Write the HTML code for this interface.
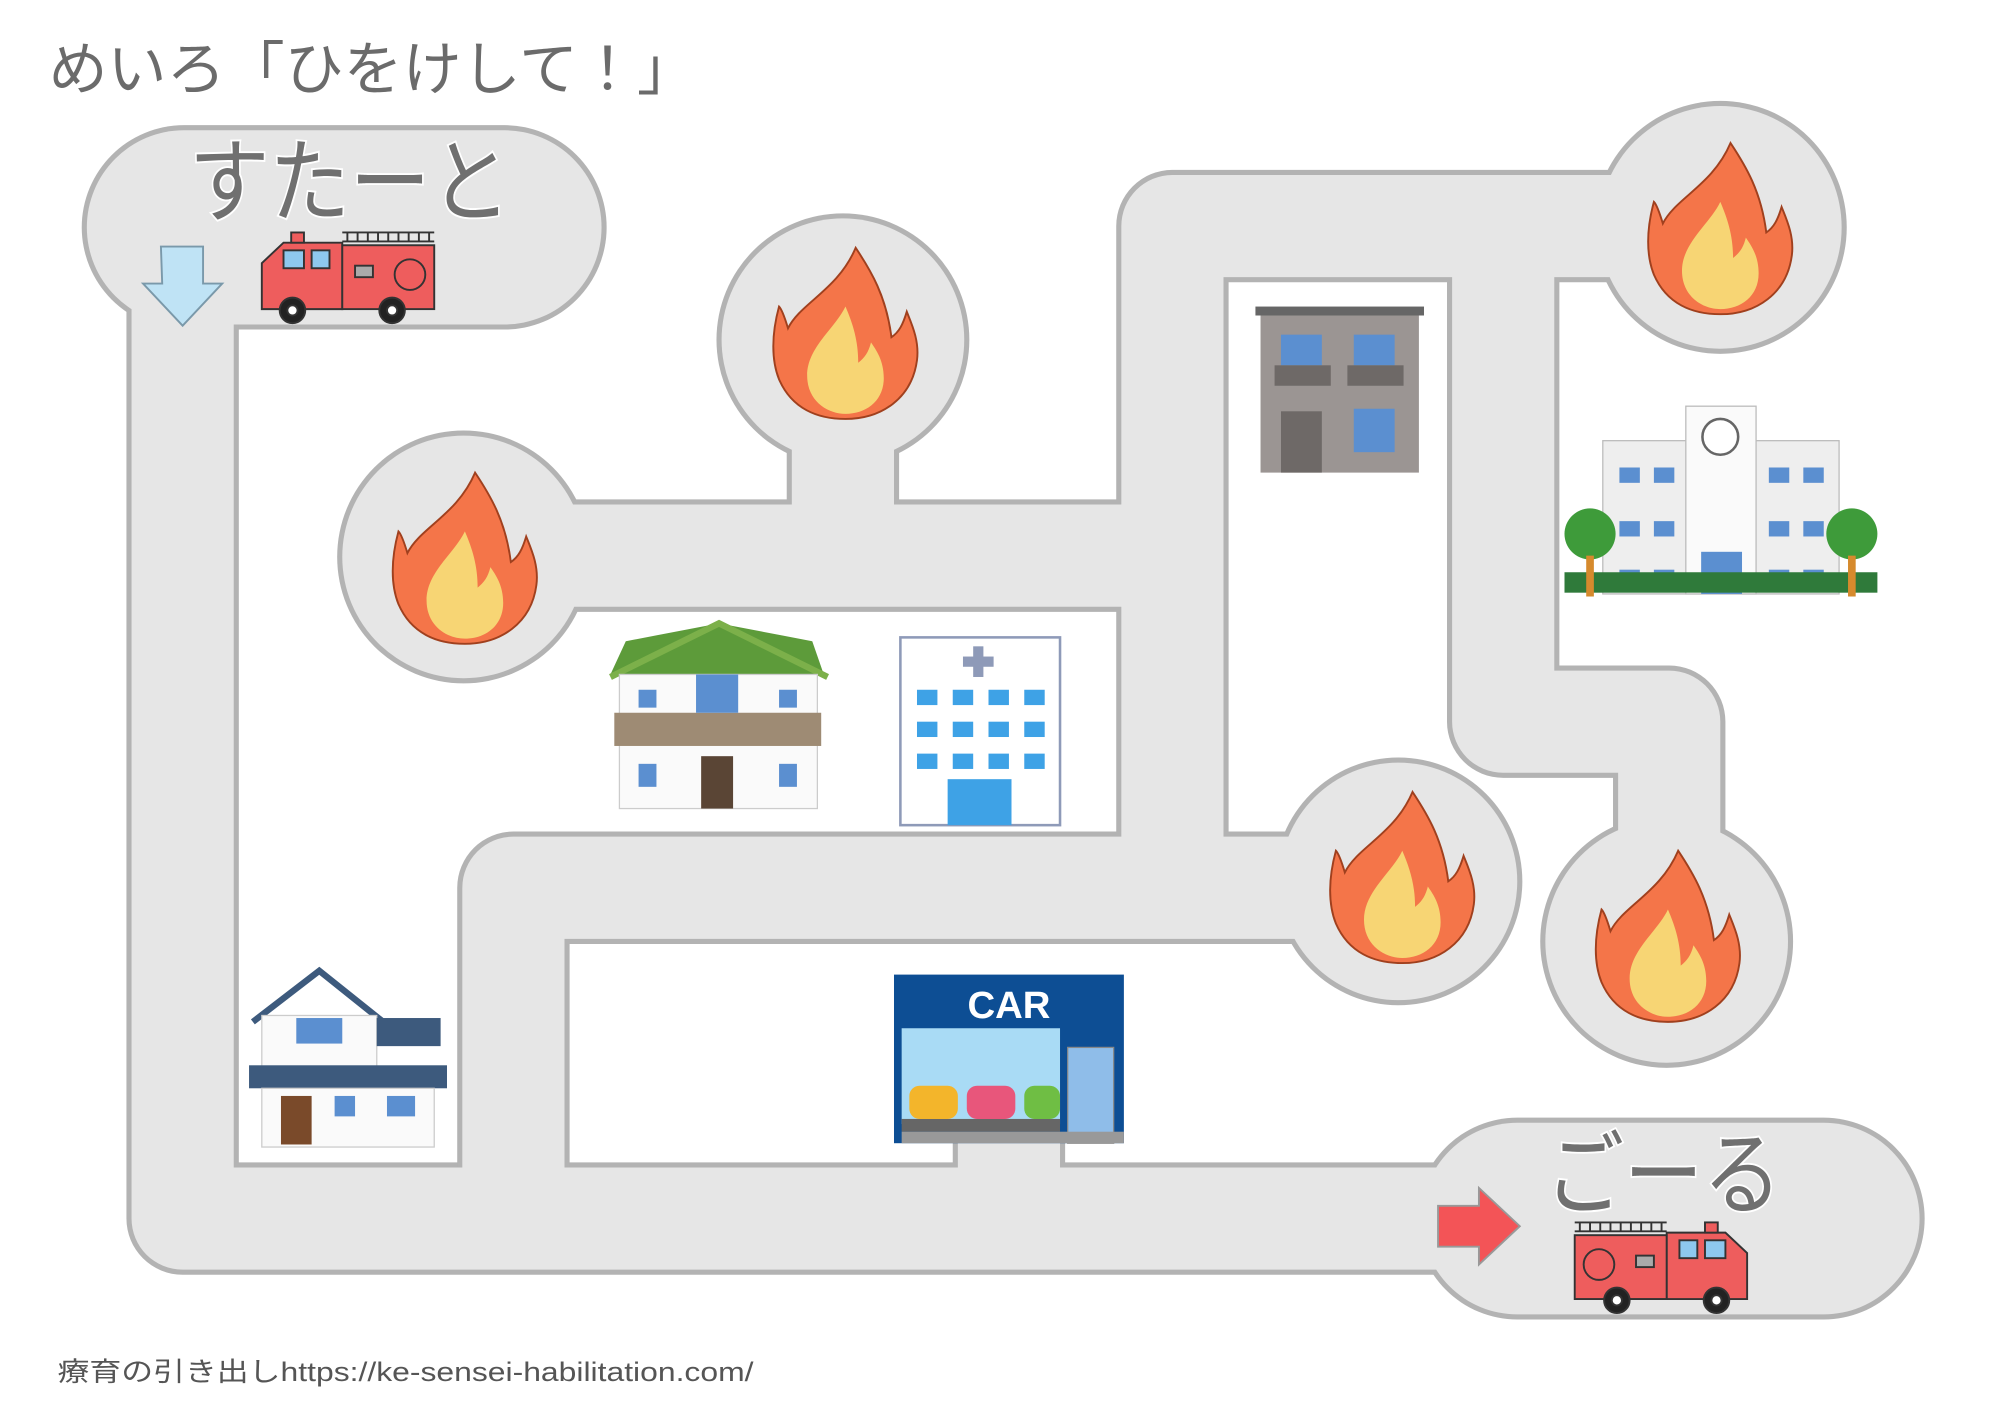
<!DOCTYPE html>
<html><head><meta charset="utf-8"><style>
html,body{margin:0;padding:0;background:#fff}
svg{display:block}
.t{font-family:"Liberation Sans","Noto Sans CJK JP",sans-serif}
</style></head><body>
<svg width="2000" height="1414" viewBox="0 0 1566 1107" preserveAspectRatio="none" xmlns="http://www.w3.org/2000/svg">
<rect width="1566" height="1107" fill="#fff"/>
<text x="38" y="70" class="t" font-size="46" fill="#6b6b6b" textLength="507" lengthAdjust="spacingAndGlyphs">めいろ「ひをけして！」</text>

<g id="road" stroke-linejoin="round" stroke-linecap="butt" fill="none">
<g stroke="#b3b3b3">
 <line x1="144" y1="178" x2="395" y2="178" stroke-width="160" stroke-linecap="round"/>
 <line x1="1188" y1="954" x2="1428" y2="954" stroke-width="158" stroke-linecap="round"/>
 <path d="M143 200 V954 H1200" stroke-width="88"/>
 <path d="M402 954 V695 H1095" stroke-width="88"/>
 <path d="M790 954 V880" stroke-width="88"/>
 <path d="M918 695 V177 H1347" stroke-width="88"/>
 <path d="M1177 177 V565 H1307 V735" stroke-width="88"/>
 <path d="M362 435 H918" stroke-width="88"/>
 <path d="M660 435 V265" stroke-width="88"/>
 <circle cx="660" cy="266" r="99" fill="#b3b3b3" stroke="none"/>
 <circle cx="363" cy="436" r="99" fill="#b3b3b3" stroke="none"/>
 <circle cx="1347" cy="178" r="99" fill="#b3b3b3" stroke="none"/>
 <circle cx="1095" cy="690" r="97" fill="#b3b3b3" stroke="none"/>
 <circle cx="1305" cy="737" r="99" fill="#b3b3b3" stroke="none"/>
</g>
<g stroke="#e6e6e6">
 <line x1="144" y1="178" x2="395" y2="178" stroke-width="152" stroke-linecap="round"/>
 <line x1="1188" y1="954" x2="1428" y2="954" stroke-width="150" stroke-linecap="round"/>
 <path d="M143 200 V954 H1200" stroke-width="80"/>
 <path d="M402 954 V695 H1095" stroke-width="80"/>
 <path d="M790 954 V880" stroke-width="80"/>
 <path d="M918 695 V177 H1347" stroke-width="80"/>
 <path d="M1177 177 V565 H1307 V735" stroke-width="80"/>
 <path d="M362 435 H918" stroke-width="80"/>
 <path d="M660 435 V265" stroke-width="80"/>
 <circle cx="660" cy="266" r="95" fill="#e6e6e6" stroke="none"/>
 <circle cx="363" cy="436" r="95" fill="#e6e6e6" stroke="none"/>
 <circle cx="1347" cy="178" r="95" fill="#e6e6e6" stroke="none"/>
 <circle cx="1095" cy="690" r="93" fill="#e6e6e6" stroke="none"/>
 <circle cx="1305" cy="737" r="95" fill="#e6e6e6" stroke="none"/>
</g>
</g>

<!-- flames -->
<g id="flames" stroke="#a0401e" stroke-width="1.5">
<g transform="translate(662,262)">
 <path d="M8,-68 C-6,-35 -35,-25 -45,-5 C-48,-15 -50,-20 -52,-22 C-58,0 -58,20 -52,35 C-42,58 -22,66 0,66 C28,66 52,50 56,20 C58,5 52,-8 48,-18 C45,-8 42,-2 36,2 C32,-30 20,-50 8,-68Z" fill="#f47549"/>
 <path d="M0,-22 C-8,-5 -30,10 -30,32 C-30,52 -14,62 0,62 C16,62 30,52 30,34 C30,20 24,12 20,6 C18,14 15,18 10,22 C10,5 6,-8 0,-22Z" fill="#f7d574" stroke="none"/>
</g>
<g transform="translate(364,438)">
 <path d="M8,-68 C-6,-35 -35,-25 -45,-5 C-48,-15 -50,-20 -52,-22 C-58,0 -58,20 -52,35 C-42,58 -22,66 0,66 C28,66 52,50 56,20 C58,5 52,-8 48,-18 C45,-8 42,-2 36,2 C32,-30 20,-50 8,-68Z" fill="#f47549"/>
 <path d="M0,-22 C-8,-5 -30,10 -30,32 C-30,52 -14,62 0,62 C16,62 30,52 30,34 C30,20 24,12 20,6 C18,14 15,18 10,22 C10,5 6,-8 0,-22Z" fill="#f7d574" stroke="none"/>
</g>
<g transform="translate(1347,180)">
 <path d="M8,-68 C-6,-35 -35,-25 -45,-5 C-48,-15 -50,-20 -52,-22 C-58,0 -58,20 -52,35 C-42,58 -22,66 0,66 C28,66 52,50 56,20 C58,5 52,-8 48,-18 C45,-8 42,-2 36,2 C32,-30 20,-50 8,-68Z" fill="#f47549"/>
 <path d="M0,-22 C-8,-5 -30,10 -30,32 C-30,52 -14,62 0,62 C16,62 30,52 30,34 C30,20 24,12 20,6 C18,14 15,18 10,22 C10,5 6,-8 0,-22Z" fill="#f7d574" stroke="none"/>
</g>
<g transform="translate(1098,688)">
 <path d="M8,-68 C-6,-35 -35,-25 -45,-5 C-48,-15 -50,-20 -52,-22 C-58,0 -58,20 -52,35 C-42,58 -22,66 0,66 C28,66 52,50 56,20 C58,5 52,-8 48,-18 C45,-8 42,-2 36,2 C32,-30 20,-50 8,-68Z" fill="#f47549"/>
 <path d="M0,-22 C-8,-5 -30,10 -30,32 C-30,52 -14,62 0,62 C16,62 30,52 30,34 C30,20 24,12 20,6 C18,14 15,18 10,22 C10,5 6,-8 0,-22Z" fill="#f7d574" stroke="none"/>
</g>
<g transform="translate(1306,734)">
 <path d="M8,-68 C-6,-35 -35,-25 -45,-5 C-48,-15 -50,-20 -52,-22 C-58,0 -58,20 -52,35 C-42,58 -22,66 0,66 C28,66 52,50 56,20 C58,5 52,-8 48,-18 C45,-8 42,-2 36,2 C32,-30 20,-50 8,-68Z" fill="#f47549"/>
 <path d="M0,-22 C-8,-5 -30,10 -30,32 C-30,52 -14,62 0,62 C16,62 30,52 30,34 C30,20 24,12 20,6 C18,14 15,18 10,22 C10,5 6,-8 0,-22Z" fill="#f7d574" stroke="none"/>
</g>
</g>

<!-- start / goal text -->
<text x="148" y="168" class="t" font-size="72" fill="#707070" stroke="#fff" stroke-width="3" paint-order="stroke" textLength="252" lengthAdjust="spacingAndGlyphs">すたーと</text>
<text x="1210" y="945" class="t" font-size="72" fill="#707070" stroke="#fff" stroke-width="3" paint-order="stroke" textLength="185" lengthAdjust="spacingAndGlyphs">ごーる</text>

<!-- arrows -->
<path d="M126 193 H159 V222 H174 L143 255 L112 222 H127Z" fill="#bfe3f5" stroke="#7a99aa" stroke-width="1.5"/>
<path d="M1126 944 H1158 V930 L1190 960 L1158 990 V976 H1126Z" fill="#f35457" stroke="#999" stroke-width="1.5"/>

<!-- start truck (facing left) -->
<g stroke="#333" stroke-width="1.5">
 <path d="M205 220 V206 L222 190 H268 V242 H205Z" fill="#ee5d5d"/>
 <rect x="268" y="192" width="72" height="50" fill="#ee5d5d"/>
 <rect x="222" y="196" width="16" height="14" fill="#8ec8ee"/>
 <rect x="244" y="196" width="14" height="14" fill="#8ec8ee"/>
 <circle cx="321" cy="215" r="12" fill="none"/>
 <rect x="278" y="208" width="14" height="9" fill="#aaa"/>
 <rect x="228" y="182" width="10" height="8" fill="#ee5d5d"/>
 <path d="M268 189 H340 M272 182 V189 M280 182 V189 M288 182 V189 M296 182 V189 M304 182 V189 M312 182 V189 M320 182 V189 M328 182 V189 M336 182 V189 M268 182 H340" fill="none"/>
 <circle cx="229" cy="243" r="10" fill="#222"/><circle cx="229" cy="243" r="4" fill="#fff"/>
 <circle cx="307" cy="243" r="10" fill="#222"/><circle cx="307" cy="243" r="4" fill="#fff"/>
</g>
<!-- goal truck (facing right) -->
<g stroke="#333" stroke-width="1.5" transform="translate(1573,775) scale(-1,1)">
 <path d="M205 220 V206 L222 190 H268 V242 H205Z" fill="#ee5d5d"/>
 <rect x="268" y="192" width="72" height="50" fill="#ee5d5d"/>
 <rect x="222" y="196" width="16" height="14" fill="#8ec8ee"/>
 <rect x="244" y="196" width="14" height="14" fill="#8ec8ee"/>
 <circle cx="321" cy="215" r="12" fill="none"/>
 <rect x="278" y="208" width="14" height="9" fill="#aaa"/>
 <rect x="228" y="182" width="10" height="8" fill="#ee5d5d"/>
 <path d="M268 189 H340 M272 182 V189 M280 182 V189 M288 182 V189 M296 182 V189 M304 182 V189 M312 182 V189 M320 182 V189 M328 182 V189 M336 182 V189 M268 182 H340" fill="none"/>
 <circle cx="229" cy="243" r="10" fill="#222"/><circle cx="229" cy="243" r="4" fill="#fff"/>
 <circle cx="307" cy="243" r="10" fill="#222"/><circle cx="307" cy="243" r="4" fill="#fff"/>
</g>

<!-- gray apartment -->
<g>
 <rect x="983" y="240" width="132" height="7" fill="#666"/>
 <rect x="987" y="247" width="124" height="123" fill="#9b9593"/>
 <rect x="1003" y="262" width="32" height="24" fill="#5b8fd0"/><rect x="1060" y="262" width="32" height="24" fill="#5b8fd0"/>
 <rect x="998" y="286" width="44" height="16" fill="#6e6967"/><rect x="1055" y="286" width="44" height="16" fill="#6e6967"/>
 <rect x="1003" y="322" width="32" height="48" fill="#6e6967"/>
 <rect x="1060" y="320" width="32" height="34" fill="#5b8fd0"/>
</g>
<!-- school -->
<g>
 <rect x="1255" y="345" width="185" height="120" fill="#eee" stroke="#bbb"/>
 <rect x="1320" y="318" width="55" height="147" fill="#fafafa" stroke="#bbb"/>
 <circle cx="1347" cy="342" r="14" fill="#fff" stroke="#666" stroke-width="2"/>
 <g fill="#5b8fd0">
  <rect x="1268" y="366" width="16" height="12"/><rect x="1295" y="366" width="16" height="12"/>
  <rect x="1268" y="408" width="16" height="12"/><rect x="1295" y="408" width="16" height="12"/>
  <rect x="1268" y="446" width="16" height="12"/><rect x="1295" y="446" width="16" height="12"/>
  <rect x="1385" y="366" width="16" height="12"/><rect x="1412" y="366" width="16" height="12"/>
  <rect x="1385" y="408" width="16" height="12"/><rect x="1412" y="408" width="16" height="12"/>
  <rect x="1385" y="446" width="16" height="12"/><rect x="1412" y="446" width="16" height="12"/>
  <rect x="1332" y="432" width="32" height="33"/>
 </g>
 <rect x="1225" y="448" width="245" height="16" fill="#2f7a3a"/>
 <circle cx="1245" cy="418" r="20" fill="#3e9b3a"/><circle cx="1450" cy="418" r="20" fill="#3e9b3a"/>
 <rect x="1242" y="435" width="6" height="32" fill="#d68a2d"/><rect x="1447" y="435" width="6" height="32" fill="#d68a2d"/>
</g>
<!-- green house -->
<g>
 <path d="M478 528 L490 502 L563 488 L636 502 L645 528Z" fill="#5d9b3a"/>
 <path d="M478 530 L563 488 L648 530" fill="none" stroke="#7cb04a" stroke-width="5"/>
 <rect x="485" y="528" width="155" height="105" fill="#fafafa" stroke="#ccc"/>
 <rect x="481" y="558" width="162" height="26" fill="#9e8b74"/>
 <rect x="545" y="528" width="33" height="30" fill="#5b8fd0"/>
 <rect x="500" y="540" width="14" height="14" fill="#5b8fd0"/><rect x="610" y="540" width="14" height="14" fill="#5b8fd0"/>
 <rect x="500" y="598" width="14" height="18" fill="#5b8fd0"/><rect x="610" y="598" width="14" height="18" fill="#5b8fd0"/>
 <rect x="549" y="592" width="25" height="41" fill="#5a4535"/>
</g>
<!-- hospital -->
<g>
 <rect x="705" y="499" width="125" height="147" fill="#fff" stroke="#8e9ab8" stroke-width="2"/>
 <rect x="762" y="506" width="8" height="24" fill="#8e9ab8"/><rect x="754" y="514" width="24" height="8" fill="#8e9ab8"/>
 <g fill="#3ea2e6">
  <rect x="718" y="540" width="16" height="12"/><rect x="746" y="540" width="16" height="12"/><rect x="774" y="540" width="16" height="12"/><rect x="802" y="540" width="16" height="12"/>
  <rect x="718" y="565" width="16" height="12"/><rect x="746" y="565" width="16" height="12"/><rect x="774" y="565" width="16" height="12"/><rect x="802" y="565" width="16" height="12"/>
  <rect x="718" y="590" width="16" height="12"/><rect x="746" y="590" width="16" height="12"/><rect x="774" y="590" width="16" height="12"/><rect x="802" y="590" width="16" height="12"/>
  <rect x="742" y="610" width="50" height="36"/>
 </g>
</g>
<!-- blue house -->
<g>
 <path d="M198 800 L250 760 L300 800" fill="none" stroke="#3d5a7d" stroke-width="5"/>
 <rect x="205" y="795" width="90" height="40" fill="#fafafa" stroke="#ccc"/>
 <rect x="295" y="797" width="50" height="22" fill="#3d5a7d"/>
 <rect x="232" y="797" width="36" height="20" fill="#5b8fd0"/>
 <rect x="195" y="834" width="155" height="18" fill="#3d5a7d"/>
 <rect x="205" y="852" width="135" height="46" fill="#fafafa" stroke="#ccc"/>
 <rect x="220" y="858" width="24" height="38" fill="#7a4a2a"/>
 <rect x="262" y="858" width="16" height="16" fill="#5b8fd0"/><rect x="303" y="858" width="22" height="16" fill="#5b8fd0"/>
</g>
<!-- car shop -->
<g>
 <rect x="700" y="763" width="180" height="132" fill="#0d4e94"/>
 <text x="790" y="797" class="t" font-size="30" font-weight="bold" fill="#fff" text-anchor="middle">CAR</text>
 <rect x="706" y="805" width="124" height="75" fill="#a9dbf5"/>
 <rect x="836" y="820" width="36" height="75" fill="#8fbde9" stroke="#888"/>
 <rect x="706" y="876" width="124" height="10" fill="#666"/>
 <rect x="706" y="886" width="174" height="9" fill="#999"/>
 <rect x="712" y="850" width="38" height="26" rx="8" fill="#f3b52b"/>
 <rect x="757" y="850" width="38" height="26" rx="8" fill="#e8567b"/>
 <rect x="802" y="850" width="28" height="26" rx="8" fill="#6fbe44"/>
</g>

<text x="45" y="1081" class="t" font-size="21" fill="#555" textLength="545" lengthAdjust="spacingAndGlyphs">療育の引き出しhttps://ke-sensei-habilitation.com/</text>
</svg>
</body></html>
